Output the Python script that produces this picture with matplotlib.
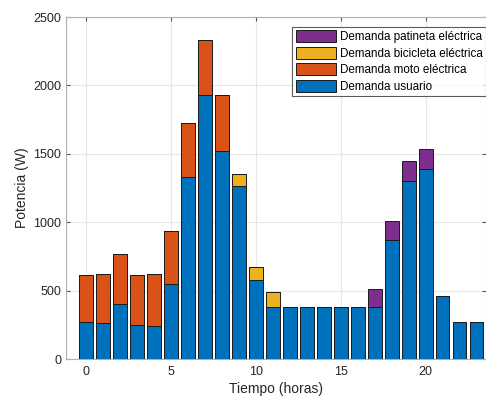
import matplotlib
matplotlib.use("Agg")
import matplotlib.pyplot as plt
import numpy as np

plt.rcParams['font.family'] = ['Liberation Sans', 'DejaVu Sans']

horas = list(range(24))
usuario = [268, 263, 404, 251, 243, 546, 1328, 1930, 1523, 1267, 575, 378,
           378, 378, 378, 378, 378, 378, 870, 1299, 1386, 463, 270, 270]
moto = [346, 358, 361, 363, 378, 390, 399, 402, 409, 0, 0, 0,
        0, 0, 0, 0, 0, 0, 0, 0, 0, 0, 0, 0]
bicicleta = [0, 0, 0, 0, 0, 0, 0, 0, 0, 88, 95, 109,
             0, 0, 0, 0, 0, 0, 0, 0, 0, 0, 0, 0]
patineta = [0, 0, 0, 0, 0, 0, 0, 0, 0, 0, 0, 0,
            0, 0, 0, 0, 0, 136, 139, 148, 149, 0, 0, 0]

labels = ['Demanda usuario', 'Demanda moto eléctrica',
          'Demanda bicicleta eléctrica', 'Demanda patineta eléctrica']
colors = ['#0072BD', '#D95319', '#EDB120', '#7E2F8E']
xticks = [0, 5, 10, 15, 20]
yticks = [0, 500, 1000, 1500, 2000, 2500]

fig = plt.figure(figsize=(4.86, 3.98), dpi=100)
ax = fig.add_axes([66/486, 39/398, 420/486, 342/398])

series = [usuario, moto, bicicleta, patineta]
bottom = np.zeros(len(horas))
handles = []
for vals, lab, col in zip(series, labels, colors):
    v = np.array(vals, dtype=float)
    h = ax.bar(horas, v, width=0.8, bottom=bottom, color=col,
               edgecolor='#1a1a1a', linewidth=0.7, label=lab, zorder=3)
    handles.append(h)
    bottom += v

ax.set_xlim(-1.18, 23.55)
ax.set_ylim(0, 2500)
ax.set_xticks(xticks)
ax.set_yticks(yticks)
ax.grid(True, color='#e6e6e6', linewidth=0.8, zorder=0)
ax.set_axisbelow(True)
for s in ax.spines.values():
    s.set_color('#b0b0b0')
    s.set_linewidth(0.8)
ax.tick_params(direction='in', top=True, right=True, length=3,
               color='#555555', labelsize=9, labelcolor='#262626')
ax.tick_params(axis='x', pad=5)
ax.set_xlabel('Tiempo (horas)', fontsize=10, color='#262626', labelpad=3)
ax.set_ylabel('Potencia (W)', fontsize=10, color='#262626', labelpad=3)

leg = ax.legend(handles[::-1], labels[::-1], loc='upper right',
                bbox_to_anchor=(1.0, 0.971), fontsize=8.4, frameon=True,
                fancybox=False, handlelength=3.4, handleheight=1.2,
                handletextpad=0.35, labelspacing=0.3, borderpad=0.3,
                borderaxespad=0.0)
leg.get_frame().set_edgecolor('#333333')
leg.get_frame().set_linewidth(0.8)

fig.savefig('out.png', dpi=100)
